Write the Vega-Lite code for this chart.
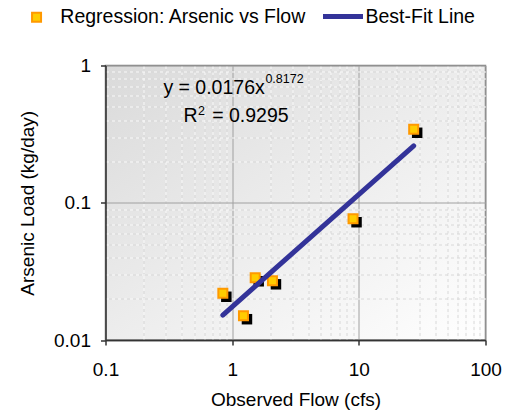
{
  "$schema": "https://vega.github.io/schema/vega-lite/v6.json",
  "width": 380,
  "height": 274.5,
  "autosize": {"type": "none"},
  "padding": {"left": 105.5, "top": 65.5, "right": 32.5, "bottom": 73},
  "background": "white",
  "config": {
    "font": "Liberation Sans",
    "view": {
      "fill": {"gradient": "linear", "x1": 0, "y1": 0, "x2": 1, "y2": 1,
        "stops": [{"offset": 0, "color": "#dadada"}, {"offset": 1, "color": "#ffffff"}]},
      "stroke": "#808080",
      "strokeWidth": 1.5
    },
    "axis": {
      "labelFont": "Liberation Sans",
      "labelFontSize": 19,
      "labelColor": "#000000",
      "titleFont": "Liberation Sans",
      "titleFontSize": 19,
      "titleFontWeight": "normal",
      "titleColor": "#000000",
      "labelFlush": false,
      "labelOverlap": false,
      "labelBound": false
    },
    "legend": {
      "labelFont": "Liberation Sans",
      "labelFontSize": 19.5,
      "labelColor": "#000000",
      "labelLimit": 0,
      "padding": 0
    }
  },
  "datasets": {
    "obs": [
      {"flow": 0.844, "load": 0.0219, "series": "Regression: Arsenic vs Flow"},
      {"flow": 1.228, "load": 0.01503, "series": "Regression: Arsenic vs Flow"},
      {"flow": 1.52, "load": 0.0284, "series": "Regression: Arsenic vs Flow"},
      {"flow": 2.08, "load": 0.027, "series": "Regression: Arsenic vs Flow"},
      {"flow": 9.0, "load": 0.0765, "series": "Regression: Arsenic vs Flow"},
      {"flow": 27.1, "load": 0.343, "series": "Regression: Arsenic vs Flow"}
    ],
    "fit": [
      {"flow": 0.844, "load": 0.0152, "series": "Best-Fit Line"},
      {"flow": 27.1, "load": 0.26, "series": "Best-Fit Line"}
    ]
  },
  "layer": [
    {
      "data": {"name": "obs"},
      "mark": {"type": "point", "shape": "square", "filled": true, "color": "#000000", "opacity": 1, "size": 110, "xOffset": 3.5, "yOffset": 3.5},
      "encoding": {
        "x": {"field": "flow", "type": "quantitative",
          "scale": {"type": "log", "domain": [0.1, 100], "nice": false},
          "axis": {"orient": "bottom", "values": [0.1, 1, 10, 100], "format": "~g",
            "grid": true, "gridColor": "#a0a0a0", "gridWidth": 1,
            "tickSize": 5, "tickColor": "#333333", "tickWidth": 1.5,
            "domainColor": "#333333", "domainWidth": 1.5,
            "labelPadding": 15, "title": "Observed Flow (cfs)", "titleY": 59, "titleBaseline": "middle"}},
        "y": {"field": "load", "type": "quantitative",
          "scale": {"type": "log", "domain": [0.01, 1], "nice": false},
          "axis": {"orient": "left", "values": [0.01, 0.1, 1], "format": "~g",
            "grid": true, "gridColor": "#a0a0a0", "gridWidth": 1,
            "tickSize": 5, "tickColor": "#333333", "tickWidth": 1.5,
            "domainColor": "#333333", "domainWidth": 1.5,
            "labelPadding": 10, "title": "Arsenic Load (kg/day)", "titleX": -78.5, "titleBaseline": "middle"}}
      }
    },
    {
      "data": {"name": "obs"},
      "mark": {"type": "point", "shape": "square", "filled": true, "opacity": 1, "size": 81, "stroke": "#FF9900", "strokeWidth": 2},
      "encoding": {
        "x": {"field": "flow", "type": "quantitative",
          "axis": {"orient": "bottom", "values": [0.2,0.3,0.4,0.5,0.6,0.7,0.8,0.9,2,3,4,5,6,7,8,9,20,30,40,50,60,70,80,90],
            "grid": true, "gridColor": "#f8f8f8", "gridDash": [3, 3], "gridWidth": 1,
            "labels": false, "ticks": false, "domain": false, "title": null}},
        "y": {"field": "load", "type": "quantitative",
          "axis": {"orient": "left", "values": [0.02,0.03,0.04,0.05,0.06,0.07,0.08,0.09,0.2,0.3,0.4,0.5,0.6,0.7,0.8,0.9],
            "grid": true, "gridColor": "#f8f8f8", "gridDash": [3, 3], "gridWidth": 1,
            "labels": false, "ticks": false, "domain": false, "title": null}},
        "fill": {"field": "series", "type": "nominal",
          "scale": {"range": ["#FFCC00"]},
          "legend": {"orient": "none", "legendX": -78.7, "legendY": -58, "title": null,
            "symbolType": "square", "symbolSize": 81, "symbolStrokeColor": "#FF9900", "symbolStrokeWidth": 2,
            "symbolOpacity": 1, "labelOffset": 14}}
      }
    },
    {
      "data": {"name": "fit"},
      "mark": {"type": "line", "strokeWidth": 5, "strokeCap": "round"},
      "encoding": {
        "x": {"field": "flow", "type": "quantitative",
          "axis": {"orient": "bottom", "values": [0.2,0.3,0.4,0.5,0.6,0.7,0.8,0.9,2,3,4,5,6,7,8,9,20,30,40,50,60,70,80,90],
            "grid": true, "gridColor": "#d8d8d8", "gridDash": [3, 3], "gridDashOffset": 3, "gridWidth": 1,
            "labels": false, "ticks": false, "domain": false, "title": null}},
        "y": {"field": "load", "type": "quantitative",
          "axis": {"orient": "left", "values": [0.02,0.03,0.04,0.05,0.06,0.07,0.08,0.09,0.2,0.3,0.4,0.5,0.6,0.7,0.8,0.9],
            "grid": true, "gridColor": "#d8d8d8", "gridDash": [3, 3], "gridDashOffset": 3, "gridWidth": 1,
            "labels": false, "ticks": false, "domain": false, "title": null}},
        "stroke": {"field": "series", "type": "nominal",
          "scale": {"range": ["#333399"]},
          "legend": {"orient": "none", "legendX": 215, "legendY": -71.5, "title": null,
            "symbolType": "stroke", "symbolSize": 1600, "symbolStrokeWidth": 5, "labelOffset": 0}}
      }
    },
    {
      "data": {"values": [{}]},
      "mark": {"type": "text", "align": "left", "baseline": "alphabetic", "fontSize": 19.5, "color": "#000000", "text": "y = 0.0176x"},
      "encoding": {
        "x": {"datum": 0.2864, "type": "quantitative", "axis": null},
        "y": {"datum": 0.617, "type": "quantitative", "axis": null}
      }
    },
    {
      "data": {"values": [{}]},
      "mark": {"type": "text", "align": "left", "baseline": "alphabetic", "fontSize": 12.5, "color": "#000000", "text": "0.8172"},
      "encoding": {
        "x": {"datum": 1.83, "type": "quantitative", "axis": null},
        "y": {"datum": 0.742, "type": "quantitative", "axis": null}
      }
    },
    {
      "data": {"values": [{}]},
      "mark": {"type": "text", "align": "left", "baseline": "alphabetic", "fontSize": 19.5, "color": "#000000", "text": "R"},
      "encoding": {
        "x": {"datum": 0.412, "type": "quantitative", "axis": null},
        "y": {"datum": 0.3857, "type": "quantitative", "axis": null}
      }
    },
    {
      "data": {"values": [{}]},
      "mark": {"type": "text", "align": "left", "baseline": "alphabetic", "fontSize": 12.5, "color": "#000000", "text": "2"},
      "encoding": {
        "x": {"datum": 0.538, "type": "quantitative", "axis": null},
        "y": {"datum": 0.4357, "type": "quantitative", "axis": null}
      }
    },
    {
      "data": {"values": [{}]},
      "mark": {"type": "text", "align": "left", "baseline": "alphabetic", "fontSize": 19.5, "color": "#000000", "text": "= 0.9295"},
      "encoding": {
        "x": {"datum": 0.695, "type": "quantitative", "axis": null},
        "y": {"datum": 0.3857, "type": "quantitative", "axis": null}
      }
    }
  ],
  "resolve": {"axis": {"x": "independent", "y": "independent"}}
}
